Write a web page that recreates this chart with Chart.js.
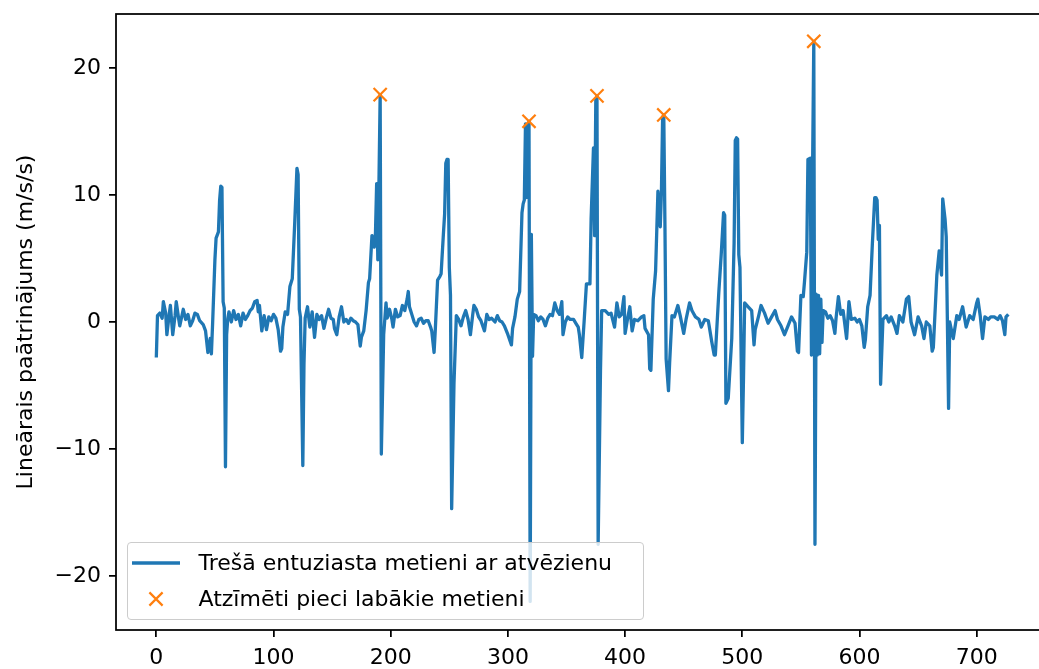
<!DOCTYPE html>
<html>
<head>
<meta charset="utf-8">
<title>Metieni ar atvēzienu</title>
<script src="https://cdn.jsdelivr.net/npm/chart.js@4"></script>
<style>
  html, body { margin: 0; padding: 0; background: #fff; overflow: hidden; }
  #wrap { position: relative; width: 1063px; height: 669px; }
  #throwChart { display: block; }
  #legend {
    position: absolute; left: 127px; top: 542px; width: 517px; height: 78px;
    box-sizing: border-box; background: rgba(255, 255, 255, 0.8);
    border: 1.5px solid #cccccc; border-radius: 4px;
    font-family: 'DejaVu Sans'; font-size: 22px; color: #000;
  }
  .row { position: absolute; left: 0; width: 100%; height: 26px; line-height: 26px; white-space: nowrap; }
  .row svg { position: absolute; left: 3.5px; top: 0; }
  .row span { position: absolute; left: 70.5px; top: 0; }
</style>
</head>
<body>
<div id="wrap">
  <canvas id="throwChart" width="1063" height="669"></canvas>
  <div id="legend"></div>
</div>
<script>
// sample index and linear acceleration (m/s/s), one row of each per block
const sampleIdx = [
  0, 1, 3, 5, 6, 8, 9, 11, 12, 14, 16, 17, 19, 20, 23,
  25, 27, 29, 31, 33, 35, 37, 40, 42, 44, 46, 47, 48, 50, 51,
  53, 54, 55, 56, 57, 58, 59, 60, 61, 62, 64, 66, 68, 70, 72,
  74, 76, 78, 80, 82, 84, 86, 87, 88, 90, 92, 94, 96, 98, 100,
  102, 104, 106, 107, 108, 110, 112, 114, 116, 118, 120, 121, 122, 123, 125,
  126, 127, 129, 131, 133, 135, 137, 139, 141, 143, 145, 147, 149, 151, 152,
  154, 156, 158, 160, 162, 164, 166, 168, 170, 172, 174, 175, 177, 179, 181,
  182, 184, 186, 187, 188, 189, 190, 191, 192, 194, 196, 197, 199, 201, 202,
  204, 206, 208, 210, 212, 214, 215, 216, 218, 220, 222, 224, 226, 228, 230,
  232, 234, 235, 237, 238, 240, 242, 243, 245, 246, 247, 248, 249, 250, 251,
  252, 254, 256, 258, 260, 262, 264, 266, 268, 270, 271, 273, 275, 277, 280,
  282, 284, 286, 289, 291, 293, 295, 297, 300, 303, 304, 306, 308, 310, 312,
  313, 314, 315, 316, 317, 318, 319, 320, 321, 322, 324, 326, 328, 330, 332,
  334, 336, 338, 340, 342, 344, 346, 347, 349, 351, 353, 356, 358, 360, 361,
  363, 365, 367, 370, 371, 373, 374, 375, 376, 377, 379, 380, 383, 386, 388,
  391, 393, 395, 397, 399, 400, 402, 404, 406, 408, 411, 414, 416, 417, 420,
  421, 422, 424, 426, 428, 430, 431, 432, 433, 434, 435, 437, 438, 440, 442,
  445, 447, 450, 452, 455, 457, 460, 463, 465, 468, 471, 474, 476, 477, 480,
  482, 484, 485, 486, 488, 491, 493, 494, 495, 496, 497, 498, 500, 501, 502,
  505, 508, 510, 511, 514, 516, 519, 522, 525, 528, 530, 533, 536, 539, 542,
  545, 547, 548, 550, 552, 553, 555, 556, 558, 559, 560, 561, 562, 563, 564,
  565, 566, 567, 568, 569, 571, 573, 575, 577, 579, 580, 582, 584, 586, 589,
  591, 593, 596, 598, 600, 602, 604, 605, 607, 609, 611, 613, 614, 615, 616,
  617, 618, 620, 623, 625, 627, 630, 632, 634, 637, 640, 642, 644, 647, 650,
  653, 655, 657, 660, 662, 663, 666, 668, 670, 671, 673, 674, 676, 677, 680,
  683, 685, 688, 691, 694, 697, 700, 701, 703, 705, 707, 710, 712, 715, 718,
  720, 722, 724, 725, 727
];
const accel = [
  -2.8, 0.5, 0.7, 0.3, 1.6, 0.7, -1.0, 0.6, 1.3, -1.0, 0.5, 1.6, 0.3, -0.3, 1.0,
  0.2, 0.6, -0.3, 0.1, 0.7, 0.6, 0.1, -0.2, -0.7, -2.4, -1.3, -2.5, -0.2, 4.9, 6.6,
  7.1, 9.6, 10.7, 10.6, 1.6, 1.1, -11.4, -1.0, 0.3, 0.8, 0.0, 0.9, 0.2, 0.6, -0.3,
  0.7, 0.2, 0.5, 0.9, 1.1, 1.6, 1.7, 0.8, 1.3, -0.7, 0.5, -0.6, 0.4, 0.1, 0.6,
  0.3, -0.6, -2.3, -2.1, -0.4, 0.8, 0.6, 2.8, 3.4, 7.6, 12.1, 11.6, 1.0, 0.4, -11.3,
  -3.3, 0.3, 1.2, -0.4, 0.8, -1.2, 0.6, 0.2, 0.5, -0.5, 0.3, 1.0, 0.3, 0.2, -0.5,
  -1.0, 0.4, 1.2, 0.0, 0.2, -0.1, 0.3, 0.1, 0.0, -0.2, -1.9, -1.2, -0.7, 0.9, 3.1,
  3.4, 6.8, 5.9, 7.0, 10.9, 4.9, 11.2, 17.9, -10.4, -1.0, 1.5, 0.3, 1.0, 0.2, -0.4,
  1.0, 0.4, 0.5, 1.3, 0.9, 1.8, 2.4, 1.2, 0.6, 0.0, -0.3, 0.2, 0.3, -0.1, 0.1,
  0.1, -0.4, -0.7, -2.4, -0.7, 3.3, 3.6, 3.8, 7.0, 8.5, 12.5, 12.8, 12.8, 4.3, 2.1,
  -14.7, -4.8, 0.5, 0.2, -0.3, 0.4, 0.9, 0.2, -1.0, 0.6, 1.3, 1.0, 0.4, 0.1, -0.7,
  0.6, 0.2, 0.3, 0.0, 0.5, 0.1, 0.0, -0.3, -1.0, -1.8, -0.5, 0.4, 1.8, 2.4, 8.6,
  9.3, 9.6, 15.6, 9.8, 15.2, 15.8, -22.0, 6.9, -2.7, 0.6, 0.5, 0.1, 0.4, 0.2, -0.3,
  0.3, 0.6, 0.5, 1.5, 0.9, 0.6, 1.6, -1.0, 0.0, 0.4, 0.2, 0.2, -0.1, -0.4, -1.0,
  -2.8, 0.0, 3.0, 3.0, 8.1, 13.7, 6.8, 17.5, 17.8, -17.5, -3.8, 0.9, 0.9, 0.6, 0.7,
  -0.4, 1.5, 0.4, 0.6, 2.0, -0.9, 0.2, 1.2, -0.7, 0.2, 0.1, 0.4, 0.5, -0.5, -1.0,
  -3.7, -3.8, 1.8, 4.0, 10.3, 7.5, 10.3, 16.1, 16.3, 7.5, -2.9, -5.4, -3.2, 0.5, 0.4,
  1.3, 0.5, -0.9, 0.2, 1.5, 0.9, 0.4, 0.2, -0.4, 0.2, 0.1, -1.6, -2.6, -2.6, 2.4,
  5.3, 8.6, 8.4, -6.4, -6.0, -1.3, 6.2, 14.3, 14.5, 14.4, 5.3, 4.3, -9.5, -4.5, 1.5,
  1.2, 0.9, -1.8, -0.6, 0.5, 1.3, 0.7, -0.1, 0.4, 0.9, 0.2, -0.3, -1.0, -0.3, 0.4,
  -0.1, -2.3, -2.4, 2.1, 2.0, 3.1, 5.5, 12.8, 12.9, -2.6, 12.5, 22.1, -17.5, 2.2, -2.6,
  2.1, -2.5, 1.8, -1.6, 0.9, 0.8, 0.3, 0.5, 0.1, -0.9, 0.3, 2.0, 0.6, 0.9, -1.3,
  1.6, 0.2, 0.3, 0.0, 0.2, -0.3, -2.0, -1.4, 1.2, 2.1, 6.2, 9.8, 9.8, 9.6, 6.5,
  7.6, -4.9, 0.2, 0.5, 0.0, 0.4, -0.3, -0.9, 0.5, 0.0, 1.8, 2.0, 0.0, -1.0, 0.4,
  -0.3, -1.3, 0.0, -0.3, -2.3, -2.0, 3.7, 5.6, 3.7, 9.7, 8.1, 6.7, -6.8, 0.0, -1.3,
  0.5, 0.2, 1.2, -0.4, 0.5, 0.2, 1.5, 1.8, 0.5, -1.3, 0.4, 0.2, 0.4, 0.4, 0.2,
  0.5, 0.1, -1.0, 0.4, 0.6
];

// the five best throws (peaks)
const bestIdx = [191, 318, 376, 433, 561];
const bestAccel = [17.9, 15.8, 17.8, 16.3, 22.1];

const xTicks = [0, 100, 200, 300, 400, 500, 600, 700];
const yTicks = [-20, -10, 0, 10, 20];

const FONT = { family: 'DejaVu Sans', size: 22 };
const minusSign = v => String(v).replace('-', '\u2212');

// box around the plot area, drawn over the line like axes spines
const frame = {
  id: 'frame',
  afterDatasetsDraw(chart) {
    const { ctx, chartArea: a } = chart;
    ctx.save();
    ctx.strokeStyle = '#000';
    ctx.lineWidth = 1.75;
    ctx.strokeRect(a.left, a.top, a.right - a.left, a.bottom - a.top);
    ctx.restore();
  }
};

const tickGrid = { drawOnChartArea: false, drawTicks: true, tickLength: 7, color: '#000', lineWidth: 1.75 };

const chart = new Chart(document.getElementById('throwChart').getContext('2d'), {
  type: 'line',
  data: {
    datasets: [{
      label: 'Trešā entuziasta metieni ar atvēzienu',
      data: sampleIdx.map((x, i) => ({ x, y: accel[i] })),
      borderColor: '#1f77b4',
      borderWidth: 3.3,
      borderJoinStyle: 'round',
      pointRadius: 0,
      tension: 0,
      order: 1
    }, {
      label: 'Atzīmēti pieci labākie metieni',
      data: bestIdx.map((x, i) => ({ x, y: bestAccel[i] })),
      showLine: false,
      pointStyle: 'crossRot',
      pointRadius: 9.3,
      pointBorderWidth: 2.2,
      borderColor: '#ff7f0e',
      backgroundColor: '#ff7f0e',
      order: 0
    }]
  },
  options: {
    responsive: false,
    devicePixelRatio: 1,
    animation: false,
    events: [],
    // the canvas is wider than the window, so the right side of the box is cut off
    layout: { padding: { top: 14, right: 12, left: 0, bottom: 0 } },
    plugins: { legend: { display: false }, tooltip: { enabled: false } },
    scales: {
      x: {
        type: 'linear',
        min: -34.4,
        max: 763.4,
        afterBuildTicks: s => { s.ticks = xTicks.map(value => ({ value })) },
        afterFit: s => { s.height = 39; s.paddingLeft = 0; s.paddingRight = 0; },
        grid: tickGrid,
        border: { display: false },
        ticks: { font: FONT, color: '#000', padding: 8, maxRotation: 0, autoSkip: false, callback: minusSign }
      },
      y: {
        min: -24.25,
        max: 24.25,
        afterBuildTicks: s => { s.ticks = yTicks.map(value => ({ value })) },
        afterFit: s => { s.width = 116; s.paddingTop = 0; s.paddingBottom = 0; },
        grid: tickGrid,
        border: { display: false },
        title: {
          display: true,
          text: 'Lineārais paātrinājums (m/s/s)',
          font: FONT,
          color: '#000',
          padding: { top: 13, bottom: 0 }
        },
        ticks: { font: FONT, color: '#000', padding: 8, autoSkip: false, callback: minusSign }
      }
    }
  },
  plugins: [frame]
});

// legend box in the lower left corner of the plot
const legendBox = document.getElementById('legend');
chart.data.datasets.forEach((ds, i) => {
  const row = document.createElement('div');
  row.className = 'row';
  row.style.top = (6.5 + 36 * i) + 'px';
  const c = ds.borderColor;
  const handle = ds.showLine === false
    ? `<svg width="50" height="26"><path d="M17.4 6.4L30.6 19.6M17.4 19.6L30.6 6.4" stroke="${c}" stroke-width="2.2"/></svg>`
    : `<svg width="50" height="26"><line x1="0" y1="13" x2="48" y2="13" stroke="${c}" stroke-width="3.3"/></svg>`;
  row.innerHTML = handle + `<span>${ds.label}</span>`;
  legendBox.appendChild(row);
});
</script>
</body>
</html>
